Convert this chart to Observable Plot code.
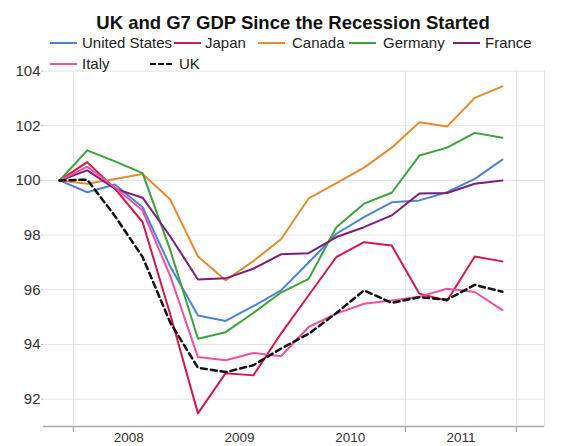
<!DOCTYPE html>
<html><head><meta charset="utf-8">
<script src="https://cdn.jsdelivr.net/npm/d3@7"></script>
<script src="https://cdn.jsdelivr.net/npm/@observablehq/plot@0.6"></script>
<style>
body{margin:0;background:#fff;font-family:"Liberation Sans",Arial,sans-serif;}
#wrap{position:relative;width:561px;height:446px;overflow:hidden;background:#fff;}
#chart{position:absolute;left:0;top:0;}
#title{position:absolute;left:0;width:586px;top:12px;text-align:center;font-weight:bold;font-size:18.5px;color:#111;z-index:2;}
.leg{position:absolute;font-size:15px;color:#222;white-space:nowrap;line-height:16px;z-index:2;}
.sw{position:absolute;height:0;z-index:2;}
g[aria-label^="x-axis"] line, g[aria-label^="x-axis"] path{stroke:#999;}
g[aria-label^="y-axis"] line, g[aria-label^="y-axis"] path{stroke:#bbb;}
</style></head>
<body><div id="wrap"><div id="title">UK and G7 GDP Since the Recession Started</div><div id="chart"></div></div>
<script>
// Quarterly GDP index (2007 Q4 = 100)
const quarters = ["2007 Q4","2008 Q1","2008 Q2","2008 Q3","2008 Q4","2009 Q1","2009 Q2","2009 Q3","2009 Q4",
  "2010 Q1","2010 Q2","2010 Q3","2010 Q4","2011 Q1","2011 Q2","2011 Q3","2011 Q4"];
const countries = ["United States","Japan","Canada","Germany","France","Italy","UK"];
const colors = ["#4a84d6","#d01a4c","#e68a30","#3ea23c","#7a1f7c","#f0509c","#111111"];
const usValues      = [100, 99.57, 99.85, 99.02, 96.85, 95.06, 94.86, 95.4, 95.98, 97.0, 98.05, 98.66, 99.2, 99.27, 99.57, 100.06, 100.76];
const japanValues   = [100, 100.67, 99.7, 98.48, 95.1, 91.48, 92.95, 92.87, 94.4, 95.8, 97.2, 97.74, 97.62, 95.86, 95.6, 97.22, 97.04];
const canadaValues  = [100, 99.88, 100.05, 100.24, 99.3, 97.22, 96.35, 97.05, 97.85, 99.34, 99.9, 100.47, 101.2, 102.13, 101.97, 103.02, 103.44];
const germanyValues = [100, 101.1, 100.7, 100.27, 97.45, 94.21, 94.45, 95.15, 95.9, 96.4, 98.29, 99.15, 99.55, 100.91, 101.2, 101.74, 101.56];
const franceValues  = [100, 100.37, 99.7, 99.37, 97.95, 96.38, 96.42, 96.77, 97.3, 97.34, 97.93, 98.29, 98.72, 99.52, 99.54, 99.88, 100.0];
const italyValues   = [100, 100.5, 99.75, 98.9, 96.5, 93.54, 93.42, 93.69, 93.57, 94.64, 95.13, 95.49, 95.61, 95.75, 96.04, 95.92, 95.26];
const ukValues      = [100, 100.03, 98.7, 97.2, 94.8, 93.15, 92.99, 93.24, 93.85, 94.39, 95.15, 95.98, 95.52, 95.73, 95.64, 96.18, 95.93];
const yearLabels = ["2008","2009","2010","2011"];
const yearLabelAt = [2.5, 6.5, 10.5, 14.5];   // in quarter-index units
const yearTicks = [0.5, 12.5, 16.5];          // visible year-boundary ticks/gridlines
const yTicks = [92, 94, 96, 98, 100, 102, 104];

const series = [usValues, japanValues, canadaValues, germanyValues, franceValues, italyValues, ukValues];
const rows = [];
series.forEach((vals, k) => vals.forEach((v, i) => rows.push({country: countries[k], quarter: quarters[i], q: i, value: v})));

const xDomain = [-0.58, 17.52];
const chart = Plot.plot({
  width: 561, height: 446,
  marginLeft: 43, marginRight: 17, marginTop: 70.6, marginBottom: 20,
  style: {fontFamily: '"Liberation Sans", Arial, sans-serif', fontSize: "15px", color: "#333", background: "transparent", overflow: "visible"},
  x: {domain: xDomain, ticks: yearTicks, tickFormat: () => "", tickSize: 6, label: null},
  y: {domain: [91, 104], ticks: yTicks, tickSize: 2, tickPadding: 1, label: null},
  color: {domain: countries, range: colors},
  marks: [
    Plot.ruleY(yTicks, {stroke: "#e3e3e3"}),
    Plot.ruleX(yearTicks, {stroke: "#e3e3e3"}),
    Plot.ruleX([xDomain[1]], {stroke: "#e3e3e3"}),
    Plot.ruleY([91], {stroke: "#aaa", strokeWidth: 1.5}),
    Plot.line(rows.filter(d => d.country !== "UK"), {x: "q", y: "value", z: "country", stroke: "country", strokeWidth: 2}),
    Plot.line(rows.filter(d => d.country === "UK"), {x: "q", y: "value", stroke: "#111", strokeWidth: 2.5, strokeDasharray: "6,4"}),
    Plot.text(yearLabels, {x: (d, i) => yearLabelAt[i], y: () => 91, dy: 6, lineAnchor: "top", text: d => d, fontSize: 13.5, fill: "#333"})
  ]
});
document.getElementById("chart").appendChild(chart);

// legend
const legPos = [[50,82,43],[174,205,43],[258,292,43],[349,383,43],[453,485,43],[50,82,64],[150,179,64]];
const wrap = document.getElementById("wrap");
countries.forEach((c, i) => {
  const [sx, tx, y] = legPos[i];
  const sw = document.createElement("div");
  sw.className = "sw";
  const isUK = c === "UK";
  sw.style.cssText = `left:${sx}px;top:${y - 1}px;width:${isUK ? 22 : 27}px;border-top:${isUK ? "2.5px dashed" : "2.5px solid"} ${colors[i]};`;
  wrap.appendChild(sw);
  const t = document.createElement("div");
  t.className = "leg";
  t.style.left = tx + "px";
  t.style.top = (y - 8) + "px";
  t.textContent = c;
  wrap.appendChild(t);
});
</script>
</body></html>
